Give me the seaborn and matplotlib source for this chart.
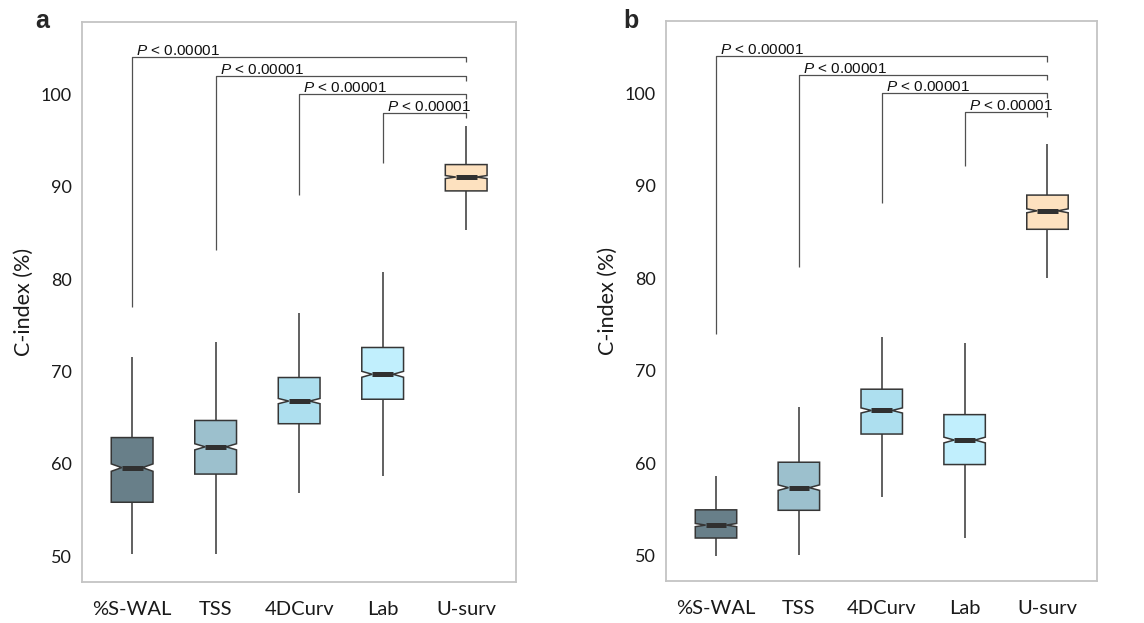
"""
C-index comparison of survival models, two cohorts (panels a and b).
Notched boxes with P-value brackets against U-surv.
"""

import numpy as np
import pandas as pd
import matplotlib
matplotlib.use("Agg")
import matplotlib.pyplot as plt
import seaborn as sns


MODELS = ["%S-WAL", "TSS", "4DCurv", "Lab", "U-surv"]
BOX_COLORS = ["#687f89", "#9cc0cd", "#addfef", "#c1effd", "#fde1bf"]

# panel a: five-number summaries
A_LOW = [50.2, 50.3, 56.85, 58.65, 85.3]
A_Q1 = [55.85, 58.9, 64.35, 67.0, 89.55]
A_MEDIAN = [59.6, 61.85, 66.8, 69.7, 91.05]
A_Q3 = [62.85, 64.7, 69.35, 72.6, 92.4]
A_HIGH = [71.55, 73.2, 76.3, 80.75, 96.6]

# panel b
B_LOW = [50.0, 50.1, 56.3, 51.85, 80.05]
B_Q1 = [51.9, 54.9, 63.15, 59.85, 85.3]
B_MEDIAN = [53.3, 57.35, 65.7, 62.5, 87.3]
B_Q3 = [54.95, 60.1, 68.0, 65.25, 89.0]
B_HIGH = [58.65, 66.05, 73.6, 73.0, 94.55]

# comparison brackets (each model vs U-surv)
A_BRACKET_Y = [104.0, 102.0, 100.0, 98.0]
A_LEG_END = [77.0, 83.1, 89.1, 92.6]
B_BRACKET_Y = [104.0, 102.0, 100.0, 98.0]
B_LEG_END = [74.0, 81.2, 88.1, 92.1]
P_LABEL = "$P$ < 0.00001"

# replicates behind each summary (controls notch height)
N_REPLICATES = 250

Y_TICKS = [50, 60, 70, 80, 90, 100]


def build_frame(low, q1, median, q3, high):
    """
    Long table with the summary values repeated per model.
    """

    rows = []
    for i, model in enumerate(MODELS):
        values = np.repeat(
            [low[i], q1[i], median[i], q3[i], high[i]],
            [1, N_REPLICATES, N_REPLICATES, N_REPLICATES, 1]
        )
        rows.append(pd.DataFrame({"model": model, "cindex": values}))
    return pd.concat(rows, ignore_index=True)


def draw_panel(ax, frame, bracket_y, leg_end):
    """
    Notched boxplot plus brackets.
    """

    sns.boxplot(
        data=frame,
        x="model",
        y="cindex",
        order=MODELS,
        hue="model",
        hue_order=MODELS,
        palette=BOX_COLORS,
        saturation=1,
        legend=False,
        width=0.5,
        notch=True,
        whis=(0, 100),
        showcaps=False,
        linecolor="#363636",
        linewidth=1.1,
        medianprops=dict(color="#303030", linewidth=3.6,
                         solid_capstyle="butt"),
        ax=ax
    )

    last = len(MODELS) - 1
    for i, (y_top, y_end) in enumerate(zip(bracket_y, leg_end)):
        ax.plot([i, i, last, last], [y_end, y_top, y_top, y_top - 0.55],
                color="#505050", linewidth=0.9, solid_capstyle="butt")
        ax.text(i + 0.05, y_top + 0.25, P_LABEL, fontsize=11,
                family="Liberation Sans", color="#111111",
                ha="left", va="baseline")

    ax.set_xlim(-0.6, 4.6)
    ax.set_ylim(47.25, 107.8)
    ax.set_yticks(Y_TICKS)
    ax.set_xlabel("")
    ax.set_ylabel("C-index (%)", fontsize=15.5, color="#1a1a1a", labelpad=5)
    ax.tick_params(axis="both", direction="out", length=4, width=1,
                   color="#444444", labelcolor="#1a1a1a")
    ax.tick_params(axis="y", labelsize=13)
    ax.tick_params(axis="x", labelsize=14.5, pad=10)
    for spine in ax.spines.values():
        spine.set_color("#c4c4c4")
        spine.set_linewidth(1.3)


def main():
    sns.set_style("white")
    plt.rcParams["font.family"] = ["Lato", "DejaVu Sans"]
    plt.rcParams["mathtext.fontset"] = "custom"
    plt.rcParams["mathtext.it"] = "Liberation Sans:italic"
    plt.rcParams["mathtext.rm"] = "Liberation Sans"

    fig = plt.figure(figsize=(11.44, 6.23), dpi=100)
    ax_a = fig.add_axes([0.0717, 0.0663, 0.3796, 0.8979])
    ax_b = fig.add_axes([0.5824, 0.0674, 0.3767, 0.8984])

    draw_panel(ax_a, build_frame(A_LOW, A_Q1, A_MEDIAN, A_Q3, A_HIGH),
               A_BRACKET_Y, A_LEG_END)
    draw_panel(ax_b, build_frame(B_LOW, B_Q1, B_MEDIAN, B_Q3, B_HIGH),
               B_BRACKET_Y, B_LEG_END)

    fig.text(0.0306, 0.955, "a", fontsize=18, fontweight="bold",
             family="Liberation Sans", va="baseline")
    fig.text(0.5446, 0.955, "b", fontsize=18, fontweight="bold",
             family="Liberation Sans", va="baseline")

    fig.savefig("out.png", dpi=100)


if __name__ == "__main__":
    main()
